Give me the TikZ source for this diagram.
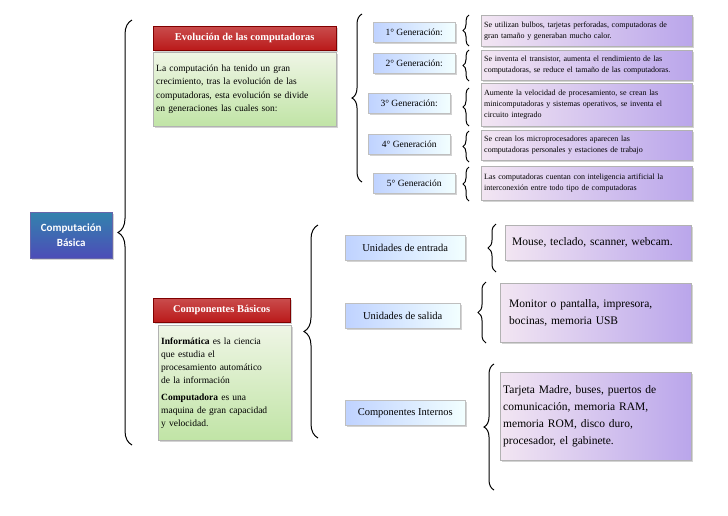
\documentclass[tikz,border=0pt]{standalone}
\usepackage{fontspec}
\setmainfont{Liberation Serif}
\newfontfamily\boxsans{Carlito}
\usetikzlibrary{shadows,decorations.pathreplacing}

\tikzset{
  boxbase/.style={anchor=north west, inner sep=3pt, drop shadow={opacity=0.35,shadow xshift=1.5pt,shadow yshift=-1.5pt}},
  bluebox/.style={boxbase, draw=blue!45!black!60, top color=blue!35!cyan!60!black!80, bottom color=blue!60!black!70, text=white, font=\boxsans\bfseries\fontsize{11}{15}\selectfont, align=center},
  redbox/.style={boxbase, draw=red!50!black, top color=red!70!black!70, bottom color=red!70!black!90, text=white, font=\bfseries\fontsize{10.5}{12}\selectfont},
  greenbox/.style={boxbase, draw=gray!60, top color=green!25!olive!10, bottom color=green!40!olive!35, align=left, font=\fontsize{9.5}{13.5}\selectfont},
  genbox/.style={boxbase, draw=gray!50, left color=cyan!30!blue!25, right color=cyan!5, font=\fontsize{9.5}{11}\selectfont},
  purplebox/.style={boxbase, draw=gray!60, left color=violet!10, right color=violet!45!blue!35, align=left, font=\fontsize{8}{11}\selectfont},
  bigpurple/.style={purplebox, font=\fontsize{11.5}{17}\selectfont},
  curly/.style={decorate, decoration={brace, amplitude=#1}, line width=1pt},
}

\begin{document}
\begin{tikzpicture}[x=1pt,y=-1pt]
\useasboundingbox (0,0) rectangle (728,515);
% raiz
\node[bluebox, minimum width=82pt, minimum height=46pt] (root) at (30,212) {Computación\\Básica};
\draw[curly=14] (132,445) -- (132,20);
% evolucion
\node[redbox, minimum width=183pt, minimum height=24pt] (evo) at (153,26) {Evolución de las computadoras};
\node[greenbox, text width=177pt, minimum height=74pt, anchor=north west] (evotxt) at (153,52) {La computación ha tenido un gran\\crecimiento, tras la evolución de las\\computadoras, esta evolución se divide\\en generaciones las cuales son:};
\draw[curly=10] (362,182) -- (362,14);
\node[genbox, minimum width=82pt, minimum height=20pt] (gen1) at (373,22) {1° Generación:};
\node[genbox, minimum width=82pt, minimum height=20pt] (gen2) at (373,53) {2° Generación:};
\node[genbox, minimum width=82pt, minimum height=20pt] (gen3) at (368,93) {3° Generación:};
\node[genbox, minimum width=82pt, minimum height=20pt] (gen4) at (368,134) {4° Generación};
\node[genbox, minimum width=82pt, minimum height=20pt] (gen5) at (373,173) {5° Generación};
\draw[curly=6] (469,46) -- (469,15);
\draw[curly=6] (469,81) -- (469,50);
\draw[curly=6] (469,126) -- (469,88);
\draw[curly=6] (469,162) -- (469,131);
\draw[curly=6] (469,201) -- (469,167);
\node[purplebox, text width=205pt, minimum height=31pt] (des1) at (481,15) {Se utilizan bulbos, tarjetas perforadas, computadoras de\\gran tamaño y generaban mucho calor.};
\node[purplebox, text width=205pt, minimum height=30pt] (des2) at (481,50) {Se inventa el transistor, aumenta el rendimiento de las\\computadoras, se reduce el tamaño de las computadoras.};
\node[purplebox, text width=205pt, minimum height=43pt] (des3) at (481,83) {Aumente la velocidad de procesamiento, se crean las\\minicomputadoras y sistemas operativos,  se inventa el\\circuito integrado};
\node[purplebox, text width=205pt, minimum height=30pt] (des4) at (481,130) {Se crean los microprocesadores aparecen las\\computadoras personales y estaciones de trabajo};
\node[purplebox, text width=205pt, minimum height=34pt] (des5) at (481,166) {Las computadoras cuentan con inteligencia artificial la\\interconexión entre todo tipo de computadoras};
% componentes
\node[redbox, minimum width=137pt, minimum height=24pt, anchor=north west] (comp) at (153,298) {Componentes Básicos};
\node[greenbox, text width=127pt, minimum height=115pt, font=\fontsize{9.5}{13}\selectfont] (comptxt) at (158,325) {\textbf{Informática} es la ciencia\\que estudia el\\procesamiento automático\\de la información\\[4pt]\textbf{Computadora} es una\\maquina de gran capacidad\\y velocidad.};
\draw[curly=14] (318,438) -- (318,225);
\node[genbox, minimum width=120pt, minimum height=25pt, font=\fontsize{10.5}{12}\selectfont] (ent) at (345,235) {Unidades de entrada};
\node[genbox, minimum width=115pt, minimum height=25pt, font=\fontsize{10.5}{12}\selectfont] (sal) at (345,303) {Unidades de salida};
\node[genbox, minimum width=120pt, minimum height=25pt, font=\fontsize{10.5}{12}\selectfont] (int) at (345,400) {Componentes Internos};
\draw[curly=8] (496,272) -- (496,224);
\draw[curly=8] (486,343) -- (486,282);
\draw[curly=10] (494,490) -- (494,364);
\node[bigpurple, text width=180pt, minimum height=35pt, font=\fontsize{11.5}{12}\selectfont] (entd) at (505,225) {\hspace*{4pt}Mouse, teclado, scanner, webcam.};
\node[bigpurple, text width=185pt, minimum height=59pt] (sald) at (500,283) {\hspace*{6pt}\parbox[t]{180pt}{Monitor o pantalla, impresora,\\bocinas, memoria USB}};
\node[bigpurple, text width=185pt, minimum height=88pt] (intd) at (500,372) {Tarjeta Madre, buses, puertos de\\comunicación, memoria RAM,\\memoria ROM, disco duro,\\procesador, el gabinete.};
\end{tikzpicture}
\end{document}
